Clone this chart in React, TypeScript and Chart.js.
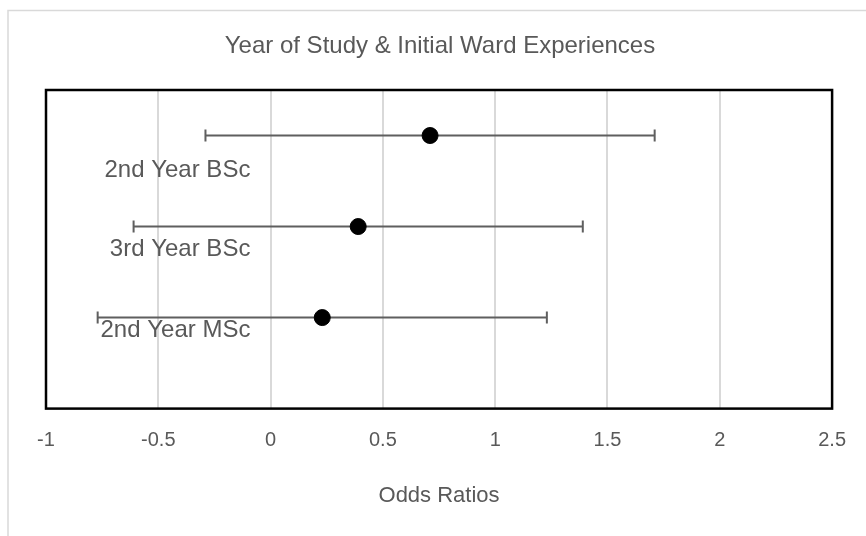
import React, { useEffect, useRef } from "react";
import { Chart, registerables } from "chart.js";

Chart.register(...registerables);

const categories = ["2nd Year BSc", "3rd Year BSc", "2nd Year MSc"];
const rowY = [3, 2, 1];
const oddsRatios = [0.71, 0.39, 0.23];
const ciLower = [-0.29, -0.61, -0.77];
const ciUpper = [1.71, 1.39, 1.23];
const labelX = [-0.09, -0.09, -0.09];
const labelY = [2.62, 1.745, 0.857];
const xTicks = [-1, -0.5, 0, 0.5, 1, 1.5, 2, 2.5];

const TEXT = "#595959";
const FONT = "'Liberation Sans', Arial, sans-serif";

const decorPlugin = {
  id: "decor",
  beforeDraw(chart: any) {
    const ctx = chart.ctx;
    ctx.save();
    ctx.fillStyle = "#ffffff";
    ctx.fillRect(0, 0, chart.width, chart.height);
    ctx.strokeStyle = "#d9d9d9";
    ctx.lineWidth = 1.5;
    ctx.strokeRect(8, 10.5, chart.width + 20, chart.height + 20);
    ctx.restore();
  },
  afterDatasetsDraw(chart: any) {
    const ctx = chart.ctx;
    const xs = chart.scales.x;
    const ys = chart.scales.y;
    ctx.save();
    // labels
    ctx.fillStyle = TEXT;
    ctx.font = `24px ${FONT}`;
    ctx.textAlign = "right";
    ctx.textBaseline = "middle";
    categories.forEach((c, i) => {
      ctx.fillText(c, xs.getPixelForValue(labelX[i]), ys.getPixelForValue(labelY[i]));
    });
    // box
    const a = chart.chartArea;
    ctx.strokeStyle = "#000000";
    ctx.lineWidth = 2.5;
    ctx.strokeRect(a.left, a.top, a.right - a.left, a.bottom - a.top);
    ctx.restore();
  },
  beforeDatasetsDraw(chart: any) {
    const ctx = chart.ctx;
    const xs = chart.scales.x;
    const ys = chart.scales.y;
    ctx.save();
    ctx.strokeStyle = "#5f5f5f";
    ctx.lineWidth = 2;
    categories.forEach((_, i) => {
      const y = ys.getPixelForValue(rowY[i]);
      const x1 = xs.getPixelForValue(ciLower[i]);
      const x2 = xs.getPixelForValue(ciUpper[i]);
      ctx.beginPath();
      ctx.moveTo(x1, y);
      ctx.lineTo(x2, y);
      ctx.moveTo(x1, y - 6);
      ctx.lineTo(x1, y + 6);
      ctx.moveTo(x2, y - 6);
      ctx.lineTo(x2, y + 6);
      ctx.stroke();
    });
    ctx.restore();
  },
};

export default function App() {
  const ref = useRef<HTMLCanvasElement>(null);
  useEffect(() => {
    const chart = new Chart(ref.current!, {
      type: "scatter",
      data: {
        datasets: [
          {
            label: "Odds Ratio",
            data: oddsRatios.map((v, i) => ({ x: v, y: rowY[i] })),
            backgroundColor: "#000000",
            borderColor: "#000000",
            pointRadius: 8,
            pointHoverRadius: 8,
          },
        ],
      },
      options: {
        animation: false,
        responsive: false,
        layout: { padding: { left: 46, right: 32, top: 0, bottom: 27 } },
        plugins: {
          legend: { display: false },
          tooltip: { enabled: false },
          title: {
            display: true,
            text: "Year of Study & Initial Ward Experiences",
            color: TEXT,
            font: { family: FONT, size: 24, weight: "normal" },
            padding: { top: 32, bottom: 29.2 },
          },
        },
        scales: {
          x: {
            type: "linear",
            min: -1,
            max: 2.5,
            afterBuildTicks: (axis: any) => {
              axis.ticks = xTicks.map((v) => ({ value: v }));
            },
            ticks: {
              color: TEXT,
              font: { family: FONT, size: 20 },
              padding: 20,
              maxRotation: 0,
              callback: (v: any) => String(v),
            },
            grid: { color: "#d9d9d9", lineWidth: 2, drawTicks: false },
            border: { display: false },
            title: {
              display: true,
              text: "Odds Ratios",
              color: TEXT,
              font: { family: FONT, size: 22 },
              padding: { top: 10, bottom: 0 },
            },
          },
          y: {
            display: false,
            min: 0,
            max: 3.5,
          },
        },
      },
      plugins: [decorPlugin],
    });
    return () => chart.destroy();
  }, []);
  return (
    <div style={{ position: "absolute", left: 0, top: 0, width: 866, height: 536 }}>
      <canvas ref={ref} width={866} height={536} style={{ display: "block" }} />
    </div>
  );
}
